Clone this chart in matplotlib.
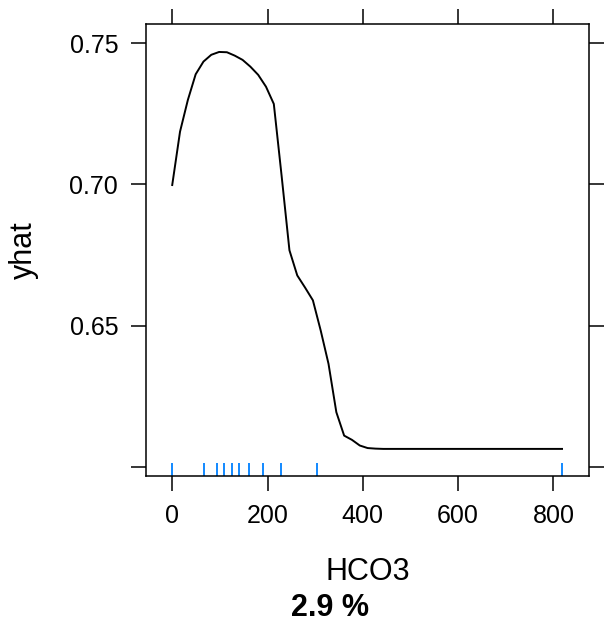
import matplotlib
matplotlib.use("Agg")
import matplotlib.pyplot as plt

plt.rcParams['font.family'] = ['Liberation Sans', 'DejaVu Sans']

# partial dependence curve
hco3 = [0, 16.4, 32.8, 49.2, 65.6, 82, 98.4, 114.8, 131.2, 147.6, 164, 180.4,
        196.8, 213.2, 229.6, 246, 262.4, 278.8, 295.2, 311.6, 328, 344.4,
        360.8, 377.2, 393.6, 410, 426.4, 442.8, 600, 818]
yhat = [0.6998, 0.7187, 0.7299, 0.7390, 0.7435, 0.7459, 0.7469, 0.7468,
        0.7456, 0.7441, 0.7417, 0.7388, 0.7346, 0.7285, 0.7030, 0.6767,
        0.6678, 0.6635, 0.6590, 0.6483, 0.6365, 0.6194, 0.6111, 0.6096,
        0.6076, 0.6067, 0.6065, 0.6064, 0.6064, 0.6064]

# deciles of HCO3 shown as rug
rug_x = [0, 66, 93, 109, 125, 141, 161, 190, 229, 303, 818]

xticks = [0, 200, 400, 600, 800]
yticks = [0.60, 0.65, 0.70, 0.75]
ytick_labels = ['', '0.65', '0.70', '0.75']

fig = plt.figure(figsize=(6.14, 6.28), dpi=100)
ax = fig.add_axes([0.2378, 0.2420, 0.7210, 0.7198])

ax.plot(hco3, yhat, color='black', lw=1.4)
ax.vlines(rug_x, 0, 0.029, color='#0080FF', lw=1.3,
          transform=ax.get_xaxis_transform())

ax.set_xlim(-55, 874)
ax.set_ylim(0.5968, 0.7568)
ax.set_xticks(xticks)
ax.set_xticklabels([str(t) for t in xticks])
ax.set_yticks(yticks)
ax.set_yticklabels(ytick_labels)

ax.tick_params(direction='out', length=11, width=1.1, labelsize=18,
               top=True, right=True, pad=9)
for s in ax.spines.values():
    s.set_linewidth(1.1)

ax.set_xlabel('HCO3', fontsize=22, labelpad=21)
ax.set_ylabel('yhat', fontsize=22, labelpad=22)

fig.text(330 / 614, 1 - 608 / 628, '2.9 %', fontsize=22, fontweight='bold',
         ha='center', va='center')

fig.savefig('out.png', dpi=100)
